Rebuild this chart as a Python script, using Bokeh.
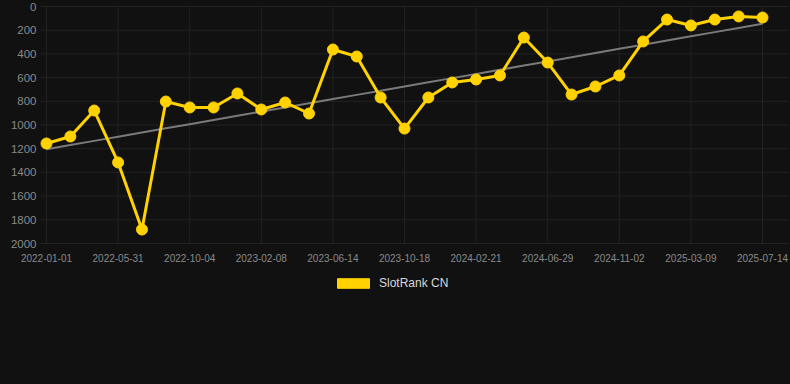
import numpy as np
from bokeh.plotting import figure
from bokeh.models import Range1d, FixedTicker, Legend, LegendItem, ColumnDataSource
from bokeh.embed import file_html
from bokeh.resources import INLINE

tick_labels = ["2022-01-01", "2022-05-31", "2022-10-04", "2023-02-08", "2023-06-14",
               "2023-10-18", "2024-02-21", "2024-06-29", "2024-11-02", "2025-03-09",
               "2025-07-14"]
rank_cn = [1156, 1097, 878, 1316, 1882, 802, 852, 852, 734, 869, 810, 903, 363, 422,
           768, 1030, 768, 641, 616, 582, 262, 473, 743, 675, 582, 295, 110, 160, 110,
           84, 93]
series_name = "SlotRank CN"
y_ticks = list(range(0, 2001, 200))

x = np.arange(len(rank_cn))
coef = np.polyfit(x, rank_cn, 1)
trend = np.polyval(coef, x)
x_ticks = list(range(0, len(rank_cn), 3))

BG = "#111111"
YEL = "#FFD200"
FONT = "Liberation Sans"
GRID = "#222222"

# page layout (pixels)
W, H = 790, 384
PLOT_L, PLOT_R, PLOT_T, PLOT_B = 40, 788, 6, 243
X0_PX, XN_PX = 46, 762
n_last = len(rank_cn) - 1
ppx = (XN_PX - X0_PX) / n_last
ppy = (PLOT_B - PLOT_T) / float(y_ticks[-1])
x_start = -X0_PX / ppx
x_end = n_last + (W - XN_PX) / ppx
y_top = -PLOT_T / ppy
y_bot = (H - PLOT_T) / ppy
x_axis_pos = (PLOT_L - X0_PX) / ppx
x_right_pos = n_last + (PLOT_R - XN_PX) / ppx

p = figure(frame_width=W, frame_height=H,
           output_backend="svg", toolbar_location=None,
           x_range=Range1d(x_start, x_end), y_range=Range1d(y_bot, y_top),
           background_fill_color=BG, border_fill_color=BG,
           min_border_left=0, min_border_right=0, min_border_top=0, min_border_bottom=0)
p.outline_line_color = None

# grid lines limited to the plot band
p.segment(x0=x_ticks, y0=[y_ticks[0]] * len(x_ticks), x1=x_ticks,
          y1=[y_ticks[-1]] * len(x_ticks), line_color=GRID, line_width=1)
p.segment(x0=[x_axis_pos] * len(y_ticks), y0=y_ticks, x1=[x_right_pos] * len(y_ticks),
          y1=y_ticks, line_color=GRID, line_width=1)

p.line(x, trend, line_color="#7a7a7a", line_width=2)
src = ColumnDataSource(dict(x=x, y=rank_cn))
p.line("x", "y", source=src, line_color=YEL, line_width=3)
p.scatter("x", "y", source=src, size=11, fill_color=YEL, line_color=YEL)

proxy = ColumnDataSource(dict(l=[np.nan], r=[np.nan], t=[np.nan], b=[np.nan]))
dummy = p.quad(left="l", right="r", top="t", bottom="b", source=proxy,
               fill_color=YEL, line_color=YEL)

p.xaxis.ticker = FixedTicker(ticks=x_ticks)
p.xaxis.major_label_overrides = {t: lab for t, lab in zip(x_ticks, tick_labels)}
p.xaxis.fixed_location = y_ticks[-1]
p.yaxis.ticker = FixedTicker(ticks=y_ticks)
p.yaxis.fixed_location = x_axis_pos

for ax in (p.xaxis[0], p.yaxis[0]):
    ax.axis_line_color = None
    ax.major_tick_line_color = None
    ax.minor_tick_line_color = None
    ax.major_tick_out = 0
    ax.major_tick_in = 0
    ax.major_label_text_color = "#8a8a8a"
    ax.major_label_text_font = FONT
p.xaxis.major_label_text_font_size = "10px"
p.yaxis.major_label_text_font_size = "11.5px"
p.xaxis.major_label_standoff = 10
p.yaxis.major_label_standoff = 4

p.xgrid.grid_line_color = None
p.ygrid.grid_line_color = None

legend = Legend(items=[LegendItem(label=series_name, renderers=[dummy])],
                orientation="horizontal", location=(333, H - 290),
                background_fill_alpha=0, border_line_color=None,
                label_text_color="#d8d8d8", label_text_font=FONT,
                label_text_font_size="12px", glyph_width=40, glyph_height=12,
                label_standoff=6, label_height=12,
                padding=0, margin=0)
p.add_layout(legend, "center")

html = file_html(p, INLINE)
html = html.replace("<head>", "<head><style>html,body{margin:0;padding:0;background:#111111;overflow:hidden}</style>", 1)
open("out.html", "w").write(html)
